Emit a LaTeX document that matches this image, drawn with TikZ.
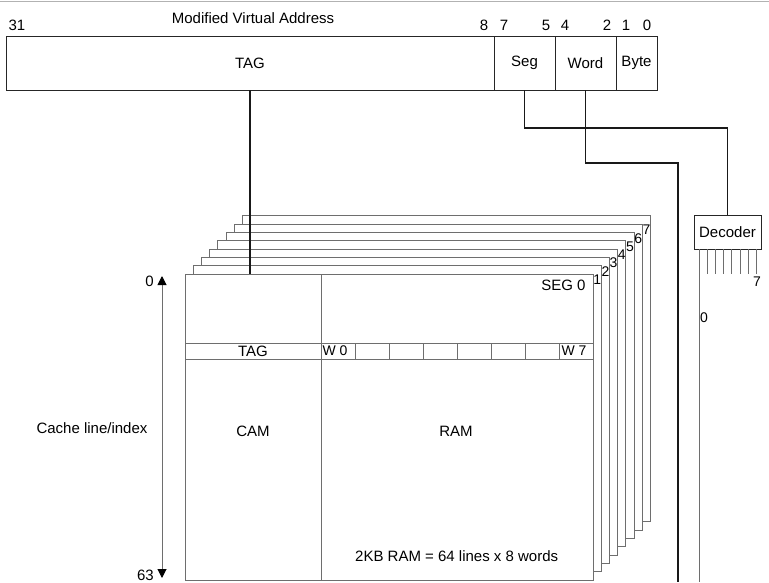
\documentclass[tikz,border=0pt]{standalone}
\usepackage{fontspec}
\setmainfont{Liberation Sans}
\usetikzlibrary{arrows.meta,positioning}
\definecolor{framegray}{RGB}{110,110,110}

\begin{document}
\begin{tikzpicture}[x=1pt, y=-1pt,
    font=\fontsize{15}{17}\selectfont,
    field/.style={rectangle, draw=black!85, line width=1pt, inner sep=0pt, outer sep=0pt, minimum height=54pt},
    segframe/.style={rectangle, draw=framegray, fill=white, line width=1pt, inner sep=0pt, outer sep=0pt, minimum width=408pt, minimum height=306pt},
    cell/.style={rectangle, draw=framegray, line width=1pt, inner sep=0pt, outer sep=0pt, minimum height=16pt},
    bus/.style={line width=1.6pt, black!90},
    tick/.style={line width=1pt, framegray},
    small/.style={font=\fontsize{14}{16}\selectfont, inner sep=0pt}
]
    \useasboundingbox (0,0) rectangle (769,582);
    \draw[gray!60, line width=1pt] (0,1) -- (769,1);

    % address fields
    \node (title) at (253,18) {Modified Virtual Address};
    \node[field, minimum width=488pt] (tag) at (250,63) {TAG};
    \node[field, minimum width=61pt, right=0pt of tag] (seg) {Seg};
    \node[field, minimum width=61pt, right=0pt of seg] (word) {Word};
    \node[field, minimum width=41pt, right=0pt of word] (byte) {Byte};
    \foreach \bx/\bit in {17/31, 484/8, 504/7, 546/5, 565/4, 607/2, 626/1, 647/0}
        \node (bit\bit) at (\bx,25) {\bit};

    % segment frames, back to front
    \foreach \k in {7,6,...,0}
        \node[segframe] (frame\k) at (389+8.2*\k, 427-8.3*\k) {};
    \foreach \k in {1,...,7}
        \node[small] (num\k) at ([xshift=-4pt, yshift=-14pt]frame\k.north east) {\k};
    \node[anchor=east] (seg0) at ([xshift=-4pt, yshift=-11pt]frame0.north east) {SEG 0};

    % CAM / RAM
    \node[cell, minimum width=136pt, minimum height=306pt, anchor=north west] (cam) at (frame0.north west) {};
    \node[cell, minimum width=136pt, anchor=north west] (tagcell) at ([yshift=-69pt]cam.north west) {TAG};
    \foreach \w in {0,...,7}
        \node[cell, minimum width=34pt, anchor=north west] (w\w) at ([xshift={\w*34pt}]tagcell.north east) {};
    \node[small] (w0text) at ([xshift=-3pt]w0.center) {W 0};
    \node[small] (w7text) at ([xshift=-2pt]w7.center) {W 7};
    \node (camtext) at ([yshift=-4pt]cam.center) {CAM};
    \node (ramtext) at (456,431) {RAM};
    \node[anchor=west, inner sep=0pt] (ramsize) at (355,556) {2KB RAM = 64 lines x 8 words};

    % decoder
    \node[field, minimum width=67pt, minimum height=34pt] (decoder) at (727.5,232) {Decoder};
    \foreach \o in {1,...,7}
        \draw[tick] ([xshift={5pt+\o*8.2pt}]decoder.south west) -- ++(0,25);
    \coordinate (dec0end) at (699,582);
    \draw[tick] ([xshift=5pt]decoder.south west) -- (dec0end);
    \node[small] (out7) at (757,282) {7};
    \node[small] (out0) at (704,318) {0};

    % buses
    \draw[bus] (tag.south) -- (tag.south |- frame0.north);
    \draw[bus] (seg.south) -- ++(0,38) -| (decoder.north);
    \coordinate (wordend) at (678,582);
    \draw[bus] (word.south) -- ++(0,73) -| (wordend);

    % index
    \coordinate (idxtop) at (162,276);
    \coordinate (idxbot) at (162,578);
    \draw[framegray, line width=1pt, {Triangle[color=black, width=9pt, length=9pt]}-{Triangle[color=black, width=9pt, length=9pt]}] (idxtop) -- (idxbot);
    \node[anchor=east, inner sep=0pt] (idx0) at ([xshift=-8pt, yshift=-5pt]idxtop) {0};
    \node[anchor=east, inner sep=0pt] (idx63) at ([xshift=-8pt, yshift=3pt]idxbot) {63};
    \node (idxlabel) at (92,428) {Cache line/index};
\end{tikzpicture}
\end{document}
